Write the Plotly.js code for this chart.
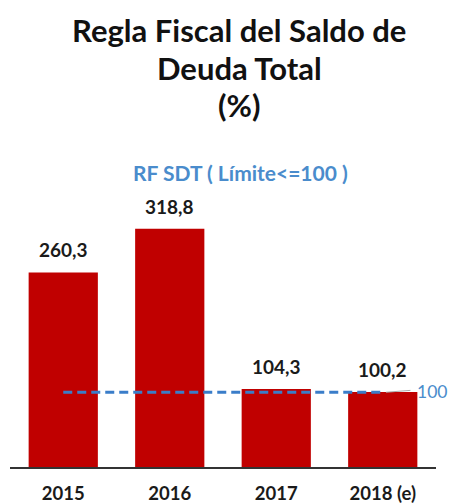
<!DOCTYPE html>
<html>
<head>
<meta charset="utf-8">
<script src="https://cdn.plot.ly/plotly-3.0.1.min.js"></script>
<style>html,body{margin:0;padding:0;background:#fff;}#chart{width:451px;height:504px;}</style>
</head>
<body>
<div id="chart"></div>
<script>
const categories = ['2015', '2016', '2017', '2018 (e)'];
const values = [260.3, 318.8, 104.3, 100.2];
const limitValue = 100;
const titleLines = ['Regla Fiscal del Saldo de', 'Deuda Total', '(%)'];
const subtitle = 'RF SDT ( Límite<=100 )';

const fmt = v => v.toFixed(1).replace('.', ',');

// plot area pixel geometry
const PT = 168, PB = 467, PL = 10, PR = 436;
const py = p => (PB - p) / (PB - PT);
const px = p => (p - PL) / (PR - PL);
const FONT = 'Lato, Open Sans, sans-serif';

const trace = {
  type: 'bar',
  x: categories,
  y: values,
  marker: {color: '#c00000'},
  hoverinfo: 'skip'
};

const annotations = [];
values.forEach((v, i) => {
  annotations.push({
    x: i, y: v, xref: 'x', yref: 'y',
    text: fmt(v), showarrow: false, yanchor: 'bottom', yshift: 9,
    font: {family: FONT, size: 19, color: '#1a1a1a', weight: 'bold'}
  });
});
const titleY = [30, 68, 105];
titleLines.forEach((t, i) => {
  annotations.push({
    x: px(239), xref: 'paper', xanchor: 'center',
    y: py(titleY[i]), yref: 'paper', yanchor: 'middle',
    text: t, showarrow: false,
    font: {family: FONT, size: 31, color: '#111', weight: 'bold'}
  });
});
annotations.push({
  x: px(240), xref: 'paper', xanchor: 'center',
  y: py(172), yref: 'paper', yanchor: 'middle',
  text: subtitle, showarrow: false,
  font: {family: FONT, size: 21, color: '#4a8ccc', weight: 'bold'}
});
annotations.push({
  x: 3.3, xref: 'x', xanchor: 'left',
  y: limitValue, yref: 'y', yanchor: 'middle', yshift: 1,
  text: String(limitValue), showarrow: false,
  font: {family: FONT, size: 17.5, color: '#4a8ccc'}
});

const layout = {
  width: 451, height: 504,
  margin: {l: PL, r: 451 - PR, t: PT, b: 504 - PB},
  paper_bgcolor: '#fff', plot_bgcolor: '#fff',
  bargap: 0.35,
  showlegend: false,
  xaxis: {
    type: 'category', range: [-0.5, 3.5],
    showline: true, linecolor: '#333', linewidth: 1.5,
    ticks: '', ticklabelstandoff: 9,
    tickfont: {family: FONT, size: 18.5, color: '#1a1a1a', weight: 'bold'},
    showgrid: false, zeroline: false, fixedrange: true
  },
  yaxis: {
    range: [0, 400], visible: false, showgrid: false, zeroline: false, fixedrange: true
  },
  shapes: [
    {type: 'line', xref: 'x', yref: 'y', x0: 0, x1: 3, y0: limitValue, y1: limitValue,
     line: {color: '#3a7dc9', width: 3, dash: '9px,5px'}},
    {type: 'line', xref: 'x', yref: 'y', x0: 3.03, x1: 3.26, y0: limitValue, y1: limitValue + 2.5,
     line: {color: '#aaaaaa', width: 1}}
  ],
  annotations: annotations
};

Plotly.newPlot('chart', [trace], layout, {displayModeBar: false, staticPlot: true});
</script>
</body>
</html>
